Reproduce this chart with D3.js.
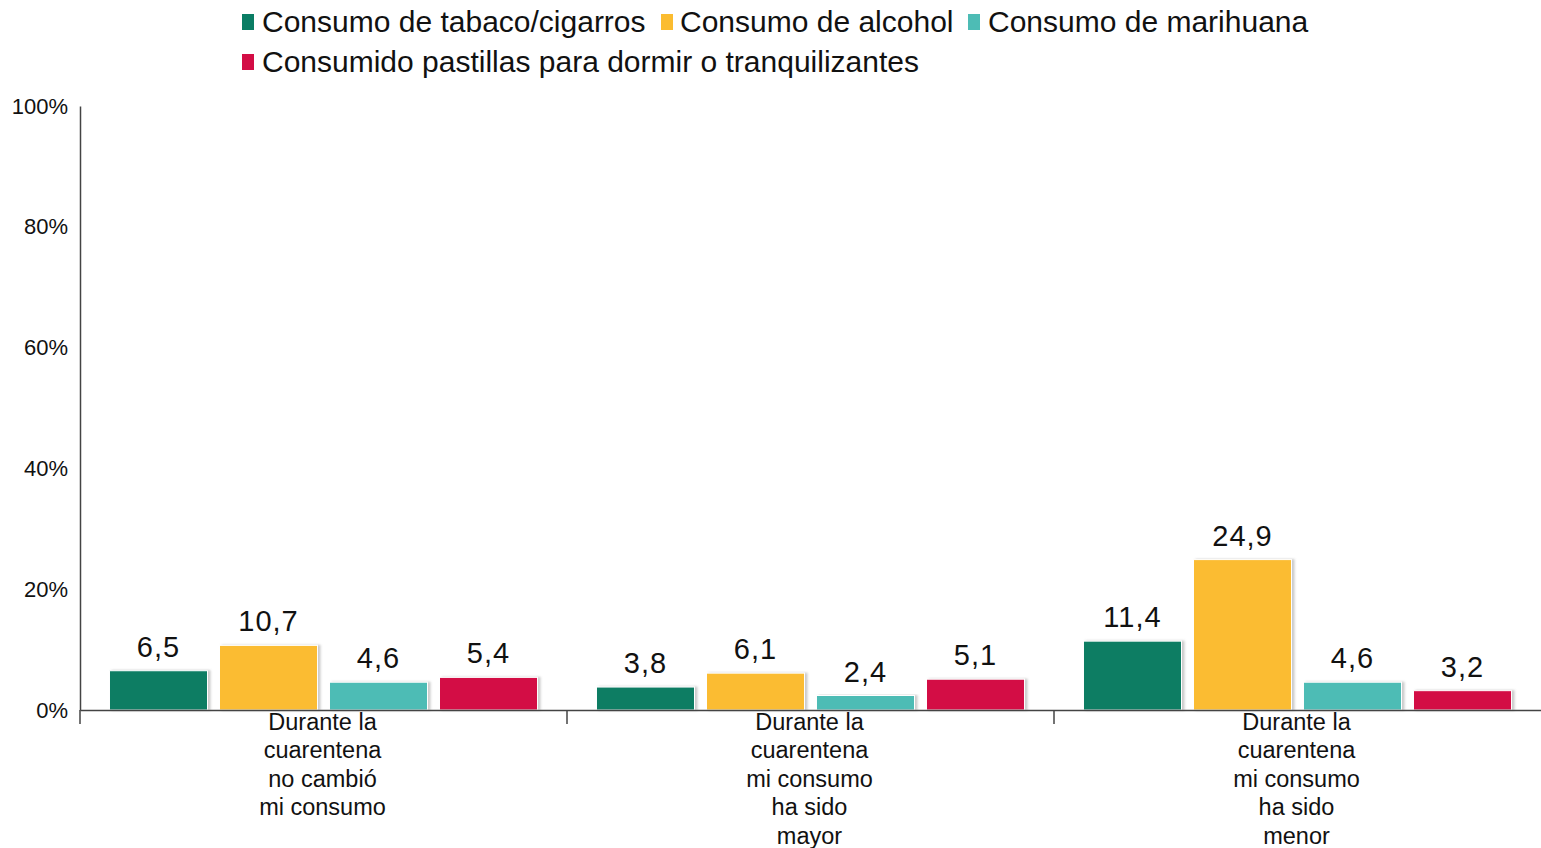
<!DOCTYPE html>
<html>
<head>
<meta charset="utf-8">
<script src="https://cdn.jsdelivr.net/npm/d3@7/dist/d3.min.js"></script>
<style>
  html, body { margin: 0; padding: 0; background: #fff; }
  svg { display: block; font-family: "Liberation Sans", Arial, sans-serif; }
</style>
</head>
<body>
<svg id="chart" width="1541" height="848"></svg>
<script>
const categories = [
  ["Durante la", "cuarentena", "no cambió", "mi consumo"],
  ["Durante la", "cuarentena", "mi consumo", "ha sido", "mayor"],
  ["Durante la", "cuarentena", "mi consumo", "ha sido", "menor"]
];
const seriesNames = [
  "Consumo de tabaco/cigarros",
  "Consumo de alcohol",
  "Consumo de marihuana",
  "Consumido pastillas para dormir o tranquilizantes"
];
const tabaco = [6.5, 3.8, 11.4];
const alcohol = [10.7, 6.1, 24.9];
const marihuana = [4.6, 2.4, 4.6];
const pastillas = [5.4, 5.1, 3.2];
const yTicks = [0, 20, 40, 60, 80, 100];
const colors = ["#0a7d64", "#fbbc30", "#4dbcb5", "#d30d45"];

(function () {
const seriesValues = [tabaco, alcohol, marihuana, pastillas];
const catKeys = categories.map((c, i) => "c" + i);

const svg = d3.select("#chart");
const defs = svg.append("defs");
const f = defs.append("filter").attr("id", "shadow")
  .attr("x", "-10%").attr("y", "-10%").attr("width", "130%").attr("height", "130%");
f.append("feDropShadow").attr("dx", 2.5).attr("dy", 0).attr("stdDeviation", 1.2)
  .attr("flood-color", "#888").attr("flood-opacity", 0.45);

const mLeft = 80, mRight = 1541, mTop = 106, mBottom = 710;
const x = d3.scaleBand().domain(catKeys).range([mLeft, mRight]).padding(0);
const xi = d3.scaleBand().domain(d3.range(seriesNames.length))
  .range([0, x.bandwidth()]).paddingInner(0.109).paddingOuter(0.268);
const y = d3.scaleLinear().domain([0, 100]).range([mBottom, mTop]);

// y axis
const yAxis = d3.axisLeft(y).tickValues(yTicks).tickSize(0).tickPadding(12)
  .tickFormat(d => d + "%");
const gy = svg.append("g").attr("transform", `translate(${mLeft},0)`).call(yAxis);
gy.select(".domain").attr("stroke", "#444").attr("stroke-width", 1.5);
gy.selectAll("text").attr("font-size", 22).attr("fill", "#111")
  .attr("font-family", "'Liberation Sans', Arial, sans-serif");

// bars
catKeys.forEach((k, ci) => {
  const g = svg.append("g").attr("transform", `translate(${x(k)},0)`);
  seriesValues.forEach((vals, si) => {
    const v = vals[ci];
    g.append("rect")
      .attr("x", xi(si)).attr("width", xi.bandwidth())
      .attr("y", y(v)).attr("height", y(0) - y(v))
      .attr("fill", colors[si])
      .attr("stroke", "#fff").attr("stroke-width", 1)
      .attr("filter", "url(#shadow)");
    g.append("text")
      .attr("x", xi(si) + xi.bandwidth() / 2)
      .attr("y", y(v) - 14)
      .attr("text-anchor", "middle")
      .attr("font-size", 29).attr("letter-spacing", 1).attr("fill", "#111")
      .text(d3.format(".1f")(v).replace(".", ","));
  });
});

// x axis
const xAxis = d3.axisBottom(x).tickSize(0).tickFormat("");
const gx = svg.append("g").attr("transform", `translate(0,${mBottom})`).call(xAxis);
gx.select(".domain").attr("stroke", "#444").attr("stroke-width", 1.5);
gx.selectAll(".tick").remove();
const boundaries = catKeys.map(k => x(k));
gx.selectAll("line.sep").data(boundaries).enter().append("line")
  .attr("class", "sep")
  .attr("x1", d => d).attr("x2", d => d)
  .attr("y1", 0).attr("y2", 14)
  .attr("stroke", "#444").attr("stroke-width", 1.5);

// category labels
catKeys.forEach((k, ci) => {
  const t = svg.append("text")
    .attr("text-anchor", "middle")
    .attr("font-size", 23.5).attr("fill", "#111");
  categories[ci].forEach((line, li) => {
    t.append("tspan")
      .attr("x", x(k) + x.bandwidth() / 2 - 1)
      .attr("y", mBottom + 19.5 + li * 28.5)
      .text(line);
  });
});

// legend
const legendPos = [
  { sx: 242, tx: 262, cy: 22 },
  { sx: 661, tx: 680, cy: 22 },
  { sx: 968, tx: 988, cy: 22 },
  { sx: 242, tx: 262, cy: 62 }
];
seriesNames.forEach((name, i) => {
  const p = legendPos[i];
  svg.append("rect").attr("x", p.sx).attr("y", p.cy - 8)
    .attr("width", 12).attr("height", 16).attr("fill", colors[i]);
  svg.append("text").attr("x", p.tx).attr("y", p.cy + 10)
    .attr("font-size", 30).attr("fill", "#111").text(name);
});
})();
</script>
</body>
</html>
